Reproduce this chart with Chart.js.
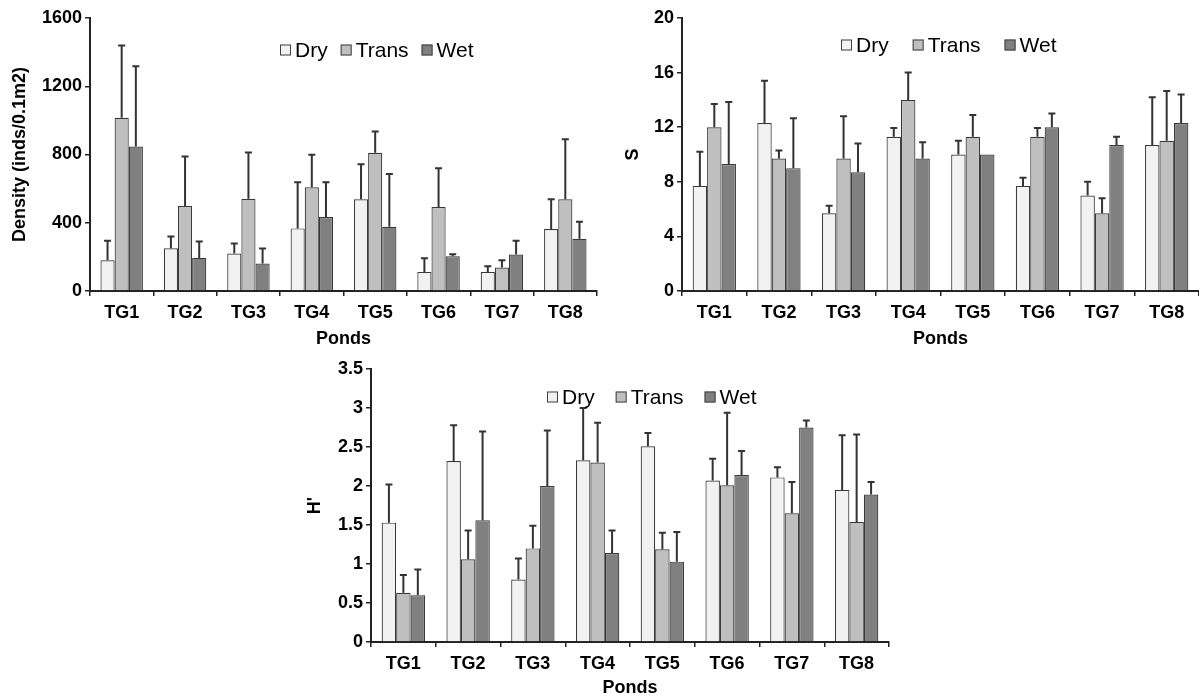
<!DOCTYPE html>
<html>
<head>
<meta charset="utf-8">
<script src="https://cdn.jsdelivr.net/npm/chart.js@4"></script>
<style>
  html, body { margin: 0; padding: 0; background: #fff; overflow: hidden; }
  #wrap { position: relative; width: 1199px; height: 697px; }
  canvas { position: absolute; }
</style>
</head>
<body>
<div id="wrap">
  <canvas id="densityChart" width="600" height="350" style="left:0;top:0"></canvas>
  <canvas id="richnessChart" width="599" height="350" style="left:600px;top:0"></canvas>
  <canvas id="diversityChart" width="600" height="349" style="left:300px;top:350px"></canvas>
</div>
<script>
const ponds = ["TG1", "TG2", "TG3", "TG4", "TG5", "TG6", "TG7", "TG8"];
const seasons = ["Dry", "Trans", "Wet"];

// density (inds/0.1m2), mean and sd
const densityDry = [180, 250, 220, 367, 537, 112, 112, 363];
const densityTrans = [1015, 498, 541, 608, 810, 492, 138, 537];
const densityWet = [847, 194, 161, 433, 376, 204, 214, 306];
const densityDrySD = [114, 69, 59, 270, 206, 80, 33, 174];
const densityTransSD = [424, 290, 270, 190, 125, 228, 42, 353];
const densityWetSD = [470, 96, 88, 204, 310, 12, 80, 100];
const densityTicks = [0, 400, 800, 1200, 1600];

// S
const sDry = [7.7, 12.3, 5.7, 11.3, 10.0, 7.7, 7.0, 10.7];
const sTrans = [12.0, 9.7, 9.7, 14.0, 11.3, 11.3, 5.7, 11.0];
const sWet = [9.3, 9.0, 8.7, 9.7, 10.0, 12.0, 10.7, 12.3];
const sDrySD = [2.5, 3.1, 0.55, 0.65, 1.0, 0.6, 1.0, 3.5];
const sTransSD = [1.7, 0.6, 3.1, 2.0, 1.6, 0.65, 1.1, 3.65];
const sWetSD = [4.55, 3.65, 2.1, 1.2, 0, 1.0, 0.6, 2.1];
const sTicks = [0, 4, 8, 12, 16, 20];

// H'
const hDry = [1.53, 2.32, 0.80, 2.33, 2.51, 2.07, 2.11, 1.95];
const hTrans = [0.63, 1.06, 1.20, 2.30, 1.19, 2.01, 1.65, 1.54];
const hWet = [0.60, 1.56, 2.00, 1.14, 1.03, 2.14, 2.75, 1.89];
const hDrySD = [0.49, 0.46, 0.27, 0.67, 0.17, 0.28, 0.13, 0.70];
const hTransSD = [0.23, 0.37, 0.29, 0.51, 0.21, 0.93, 0.40, 1.12];
const hWetSD = [0.33, 1.14, 0.71, 0.29, 0.38, 0.31, 0.09, 0.16];
const hTicks = [0, 0.5, 1, 1.5, 2, 2.5, 3, 3.5];

const fills = ["#f2f2f2", "#bfbfbf", "#808080"];
const FONT = '"Liberation Sans", Arial, sans-serif';
Chart.defaults.font.family = FONT;
Chart.defaults.color = "#000";

// upper error bars only
const errorBars = {
  id: "errorBars",
  afterDatasetsDraw(chart) {
    const ctx = chart.ctx, y = chart.scales.y;
    ctx.save();
    ctx.strokeStyle = "#333";
    ctx.lineWidth = 2;
    chart.data.datasets.forEach((ds, i) => {
      chart.getDatasetMeta(i).data.forEach((bar, j) => {
        const sd = ds.sd[j];
        if (!sd) return;
        const top = y.getPixelForValue(ds.data[j] + sd);
        ctx.beginPath();
        ctx.moveTo(bar.x, bar.y);
        ctx.lineTo(bar.x, top);
        ctx.moveTo(bar.x - 3.5, top);
        ctx.lineTo(bar.x + 3.5, top);
        ctx.stroke();
      });
    });
    ctx.restore();
  }
};

// legend drawn inside the plot area
const insideLegend = {
  id: "insideLegend",
  afterDraw(chart, args, opts) {
    const ctx = chart.ctx;
    let x = chart.chartArea.left + opts.x;
    const y = chart.chartArea.top + opts.y;
    ctx.save();
    ctx.font = "21px " + FONT;
    ctx.textBaseline = "middle";
    chart.data.datasets.forEach(ds => {
      ctx.fillStyle = ds.backgroundColor;
      ctx.fillRect(x, y - 5.5, 11, 11);
      ctx.strokeStyle = "#404040";
      ctx.lineWidth = 1;
      ctx.strokeRect(x + 0.5, y - 5, 10, 10);
      ctx.fillStyle = "#000";
      ctx.fillText(ds.label, x + 15, y + 1);
      x += 15 + ctx.measureText(ds.label).width + opts.gap;
    });
    ctx.restore();
  }
};

function makeChart(id, c) {
  return new Chart(document.getElementById(id), {
    type: "bar",
    data: {
      labels: ponds,
      datasets: seasons.map((s, i) => ({
        label: s,
        data: c.means[i],
        sd: c.sds[i],
        backgroundColor: fills[i],
        borderColor: "#3a3a3a",
        borderWidth: 1.2,
        categoryPercentage: 0.67,
        barPercentage: 1
      }))
    },
    options: {
      responsive: false,
      animation: false,
      layout: { padding: { top: c.top, right: c.right, left: 0, bottom: 0 } },
      plugins: {
        legend: { display: false },
        tooltip: { enabled: false },
        insideLegend: c.legend
      },
      scales: {
        x: {
          grid: { offset: true, drawOnChartArea: false, drawTicks: true, tickLength: 5, color: "#222", lineWidth: 1.5 },
          border: { color: "#222", width: 2 },
          ticks: { font: { size: 18, weight: "bold" }, padding: 6, color: "#000" },
          title: { display: true, text: "Ponds", font: { size: 18, weight: "bold" }, padding: { top: 0, bottom: 0 } },
          afterFit: s => { s.height = c.xh; }
        },
        y: {
          min: c.ticks[0],
          max: c.ticks[c.ticks.length - 1],
          afterBuildTicks: s => { s.ticks = c.ticks.map(v => ({ value: v })); },
          grid: { drawOnChartArea: false, drawTicks: true, tickLength: 5, color: "#222", lineWidth: 1.5 },
          border: { color: "#222", width: 2 },
          ticks: { font: { size: 18, weight: "bold" }, padding: 3, color: "#000", callback: v => String(v) },
          title: { display: true, text: c.yTitle, font: { size: 18, weight: "bold" }, padding: { top: c.titlePad, bottom: 0 } },
          afterFit: s => { s.width = c.yw; }
        }
      }
    },
    plugins: [errorBars, insideLegend]
  });
}

makeChart("densityChart", {
  means: [densityDry, densityTrans, densityWet],
  sds: [densityDrySD, densityTransSD, densityWetSD],
  ticks: densityTicks, yTitle: "Density (inds/0.1m2)",
  top: 18, right: 3, xh: 59, yw: 90, titlePad: 9,
  legend: { x: 190, y: 32, gap: 13 }
});

makeChart("richnessChart", {
  means: [sDry, sTrans, sWet],
  sds: [sDrySD, sTransSD, sWetSD],
  ticks: sTicks, yTitle: "S",
  top: 18, right: 0, xh: 59, yw: 82, titlePad: 22,
  legend: { x: 159, y: 27, gap: 24 }
});

makeChart("diversityChart", {
  means: [hDry, hTrans, hWet],
  sds: [hDrySD, hTransSD, hWetSD],
  ticks: hTicks, yTitle: "H'",
  top: 19, right: 11, xh: 57, yw: 71, titlePad: 4,
  legend: { x: 176, y: 28, gap: 21 }
});
</script>
</body>
</html>
